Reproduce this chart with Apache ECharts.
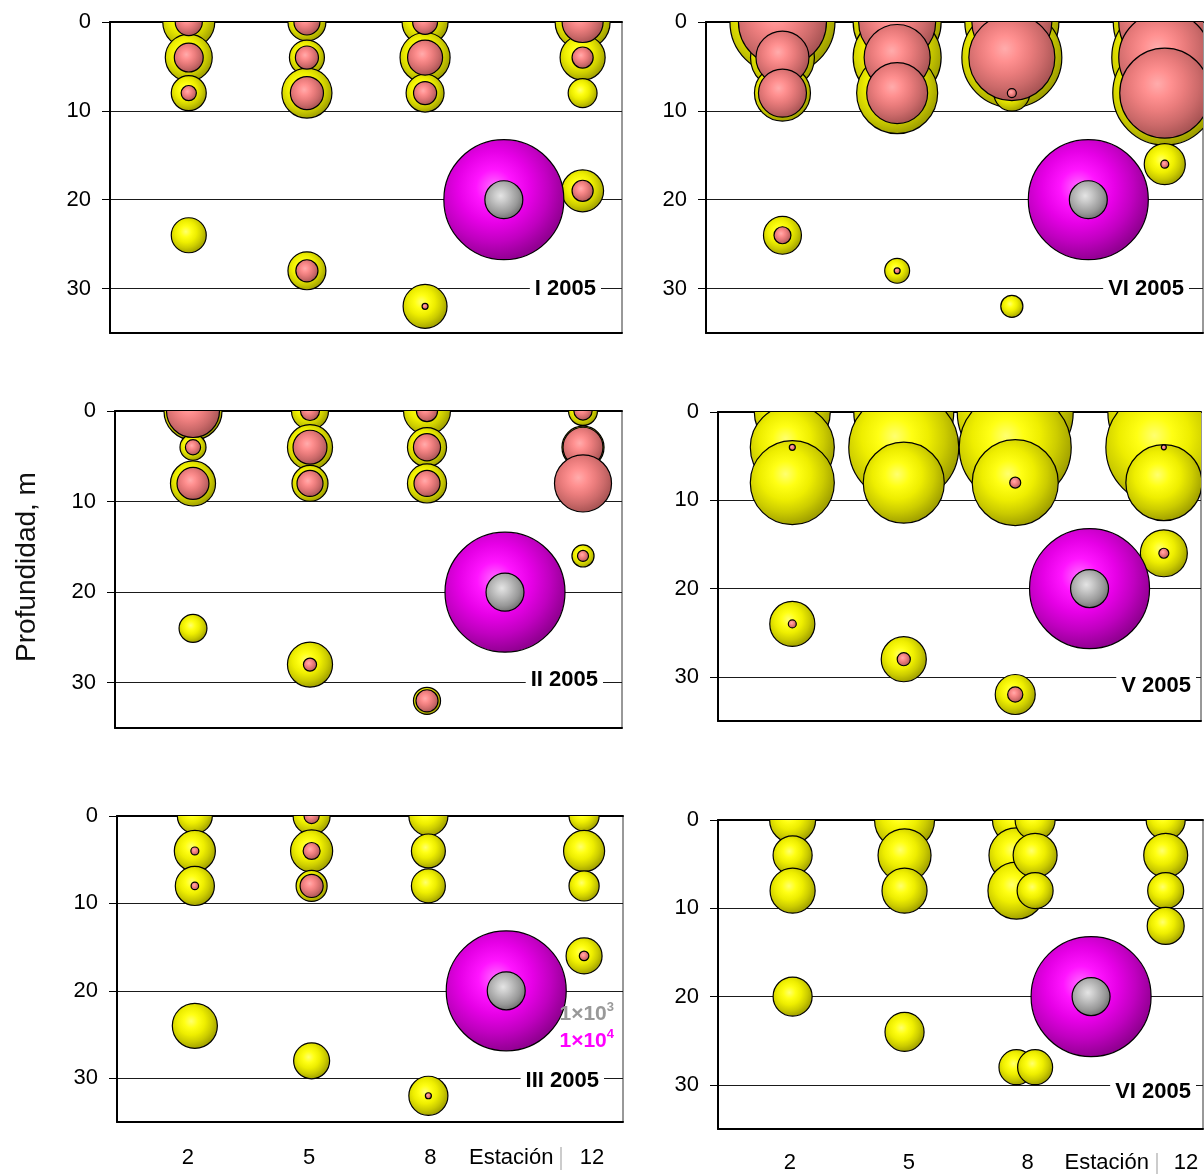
<!DOCTYPE html>
<html>
<head>
<meta charset="utf-8">
<script src="https://cdn.jsdelivr.net/npm/echarts@6/dist/echarts.min.js"></script>
<style>
  html, body { margin: 0; padding: 0; background: #ffffff; }
  #chart { width: 1204px; height: 1174px; }
</style>
</head>
<body>
<div id="chart"></div>
<script>
// Sampling grid
const depthTicks = [0, 10, 20, 30];
const stationTicks = [2, 5, 8, 10, 12];   // 10 carries the axis title
const stationAxisTitle = 'Estación';

// Each row: [station, depth (m), yellow group abundance, pink group abundance]
const samplesI = [
  [2, 0, 1880, 510], [2, 4, 1530, 580], [2, 8, 850, 160], [2, 24, 850, null],
  [5, 0, 1000, 470], [5, 4, 850, 370], [5, 8, 1740, 760], [5, 28, 1000, 340],
  [8, 0, 1470, 430], [8, 4, 1740, 850], [8, 8, 1000, 370], [8, 32, 1340, 25],
  [12, 0, 2100, 1170], [12, 4, 1410, 310], [12, 8, 580, null], [12, 19, 1220, 310]
];
const samplesII = [
  [2, 0, 2340, 1950], [2, 4, 470, 160], [2, 8, 1410, 710], [2, 24, 540, null],
  [5, 0, 950, 250], [5, 4, 1410, 800], [5, 8, 900, 470], [5, 28, 1410, 120],
  [8, 0, 1530, 310], [8, 4, 1060, 510], [8, 8, 1060, 470], [8, 32, 510, 340],
  [12, 0, 580, 230], [12, 4, 1230, 1110], [12, 8, null, 2260], [12, 16, 340, 84]
];
const samplesIII = [
  [2, 0, 850, null], [2, 4, 1170, 44], [2, 8, 1060, 39], [2, 24, 1410, null],
  [5, 0, 950, 160], [5, 4, 1230, 200], [5, 8, 670, 370], [5, 28, 900, null],
  [8, 0, 1060, null], [8, 4, 800, null], [8, 8, 800, null], [8, 32, 1060, 25],
  [12, 0, 630, null], [12, 4, 1170, null], [12, 8, 630, null], [12, 16, 900, 63]
];
const samplesVIa = [
  [2, 0, 7660, 5380], [2, 4, 2840, 1950], [2, 8, 2180, 1600], [2, 24, 1000, 200],
  [5, 0, 5380, 4120], [5, 4, 5380, 3030], [5, 8, 4560, 2580], [5, 28, 430, 25],
  [8, 0, 6140, 4440], [8, 4, 6940, 5140], [8, 8, 900, 56], [8, 32, 340, null],
  [12, 0, 7370, 5880], [12, 4, 7800, 5880], [12, 8, 7510, 5630], [12, 16, 1170, 44]
];
const samplesV = [
  [2, 0, 4010, null], [2, 4, 4900, 25], [2, 8, 4900, null], [2, 24, 1410, 44],
  [5, 0, 6940, null], [5, 4, 8400, null], [5, 8, 4560, null], [5, 28, 1410, 120],
  [8, 0, 9340, null], [8, 4, 8710, null], [8, 8, 5140, 84], [8, 32, 1110, 160],
  [12, 0, 8710, null], [12, 4, 9340, 17], [12, 8, 4010, null], [12, 16, 1530, 69]
];
const samplesVIb = [
  [2, 0, 1470, null], [2, 4, 1060, null], [2, 8, 1410, null], [2, 20, 1060, null],
  [5, 0, 2500, null], [5, 4, 1950, null], [5, 8, 1410, null], [5, 24, 1060, null],
  [8, 0, 1600, null], [8, 4, 2100, null], [8, 8, 2260, null], [8, 28, 850, null],
  [8.5, 0, 1110, null], [8.5, 4, 1340, null], [8.5, 8, 900, null], [8.5, 28, 850, null],
  [12, 0, 1060, null], [12, 4, 1340, null], [12, 8, 900, null], [12, 12, 950, null]
];

// Reference bubbles: 1x10^4 and 1x10^3, drawn at station 10, 20 m
const keyPosition = [10, 20];
const keyValues = [10000, 1000];

const FONT = '"Liberation Sans", Arial, Helvetica, sans-serif';
const BUBBLE_SCALE = 1.2;   // bubble diameter (px) per square root of abundance

function radial(colors) {
  return {
    type: 'radial', x: 0.42, y: 0.4, r: 0.6, global: false,
    colorStops: colors.map((c, i) => ({ offset: i / (colors.length - 1), color: c }))
  };
}
const FILL = {
  yellow: radial(['#ffff70', '#ffff14', '#eeee00', '#cccc00', '#a0a000']),
  pink: radial(['#ffacac', '#ff9090', '#ea7c7c', '#cc6a6a', '#a85454']),
  magenta: radial(['#ff6eff', '#ff14ff', '#e600e6', '#c000c0', '#920092']),
  grey: radial(['#e4e4e4', '#cccccc', '#b2b2b2', '#989898', '#747474'])
};

const panels = [
  { title: 'I 2005', samples: samplesI, box: { left: 110, top: 22, width: 512, height: 311 }, tag: { right: 21, dy: 0 } },
  { title: 'II 2005', samples: samplesII, box: { left: 115, top: 411, width: 507, height: 317 }, tag: { right: 19, dy: -3 } },
  { title: 'III 2005', samples: samplesIII, box: { left: 117, top: 816, width: 506, height: 306 }, tag: { right: 19, dy: 3 },
    labels: { min: 0.243, max: 12.767, margin: 25 }, keyText: true },
  { title: 'VI 2005', samples: samplesVIa, box: { left: 706, top: 22, width: 497, height: 311 }, tag: { right: 14, dy: 0 } },
  { title: 'V 2005', samples: samplesV, box: { left: 718, top: 412, width: 483, height: 309 }, tag: { right: 5, dy: 9 } },
  { title: 'VI 2005', samples: samplesVIb, box: { left: 718, top: 820, width: 485, height: 310 }, tag: { right: 7, dy: 6 },
    labels: { min: 0.182, max: 12.43, margin: 23 } }
];

const grids = [], xAxes = [], yAxes = [], series = [], graphics = [];

// Bubbles are drawn as a custom series so they are cut at the plot frame.
function bubbleSeries(xIdx, yIdx, data, fill) {
  return {
    type: 'custom', xAxisIndex: xIdx, yAxisIndex: yIdx, data: data,
    clip: true, silent: true, animation: false,
    encode: { x: 0, y: 1 },
    renderItem: (params, api) => {
      const c = api.coord([api.value(0), api.value(1)]);
      const r = BUBBLE_SCALE * Math.sqrt(api.value(2)) / 2;
      return {
        type: 'circle',
        shape: { cx: c[0], cy: c[1], r: r },
        style: { fill: fill, stroke: '#000', lineWidth: 1.2 }
      };
    }
  };
}

panels.forEach((p, i) => {
  const b = p.box;
  grids.push({ left: b.left, top: b.top, width: b.width, height: b.height,
    show: true, borderColor: '#333', borderWidth: 1, backgroundColor: 'transparent' });

  // bottom frame axis (stations)
  const xMain = xAxes.length;
  xAxes.push({ gridIndex: i, type: 'value', min: 0, max: 13, position: 'bottom',
    axisLine: { show: true, onZero: false, lineStyle: { color: '#000', width: 2 } },
    axisTick: { show: false }, axisLabel: { show: false }, splitLine: { show: false } });
  // top frame
  xAxes.push({ gridIndex: i, type: 'value', min: 0, max: 13, position: 'top',
    axisLine: { show: true, onZero: false, lineStyle: { color: '#000', width: 2 } },
    axisTick: { show: false }, axisLabel: { show: false }, splitLine: { show: false } });
  // station tick labels, printed on their own scale below the bottom row
  if (p.labels) {
    xAxes.push({ gridIndex: i, type: 'value', min: p.labels.min, max: p.labels.max, position: 'bottom',
      axisLine: { show: false }, axisTick: { show: false }, splitLine: { show: false },
      axisLabel: { show: true, customValues: stationTicks, margin: p.labels.margin,
        fontFamily: FONT, fontSize: 22, color: '#000',
        formatter: v => (v === 10 ? stationAxisTitle : String(v)) } });
  }

  yAxes.push({ gridIndex: i, type: 'value', inverse: true, min: 0, max: 35, interval: 10,
    axisLine: { show: true, onZero: false, lineStyle: { color: '#000', width: 2 } },
    axisTick: { show: true, length: 8, customValues: depthTicks, lineStyle: { color: '#000', width: 1 } },
    axisLabel: { show: true, customValues: depthTicks, margin: 19, fontFamily: FONT, fontSize: 22, color: '#000' },
    splitLine: { show: true, lineStyle: { color: '#1a1a1a', width: 1 } } });

  const yellow = p.samples.filter(r => r[2] != null).map(r => [r[0], r[1], r[2]]);
  const pink = p.samples.filter(r => r[3] != null).map(r => [r[0], r[1], r[3]]);
  series.push(bubbleSeries(xMain, i, yellow, FILL.yellow));
  series.push(bubbleSeries(xMain, i, pink, FILL.pink));
  series.push(bubbleSeries(xMain, i, [[keyPosition[0], keyPosition[1], keyValues[0]]], FILL.magenta));
  series.push(bubbleSeries(xMain, i, [[keyPosition[0], keyPosition[1], keyValues[1]]], FILL.grey));

  // month tag sitting on the 30 m line
  graphics.push({ type: 'text', z: 100,
    x: b.left + b.width - p.tag.right, y: b.top + b.height * 30 / 35 + p.tag.dy,
    style: { text: p.title, font: 'bold 22px ' + FONT, fill: '#000', align: 'right', verticalAlign: 'middle',
      backgroundColor: '#fff', padding: [1, 5, 1, 5] } });

  if (p.keyText) {
    const rich = (color) => ({
      b: { fontSize: 21, fontWeight: 'bold', fontFamily: FONT, fill: color, lineHeight: 24, verticalAlign: 'bottom' },
      s: { fontSize: 13, fontWeight: 'bold', fontFamily: FONT, fill: color, lineHeight: 14, verticalAlign: 'top' }
    });
    graphics.push({ type: 'text', z: 100, x: 614, y: 1013,
      style: { text: '{b|1×10}{s|3}', rich: rich('#999999'), align: 'right', verticalAlign: 'middle' } });
    graphics.push({ type: 'text', z: 100, x: 614, y: 1040,
      style: { text: '{b|1×10}{s|4}', rich: rich('#ff00ff'), align: 'right', verticalAlign: 'middle' } });
  }
});

// depth axis title
graphics.push({ type: 'text', z: 100, x: 27, y: 567, rotation: Math.PI / 2,
  style: { text: 'Profundidad, m', font: '28px ' + FONT, fill: '#111', align: 'center', verticalAlign: 'middle' } });

// thin separators after the station axis title
graphics.push({ type: 'line', z: 100, shape: { x1: 561, y1: 1147, x2: 561, y2: 1170 }, style: { stroke: '#999', lineWidth: 1 } });
graphics.push({ type: 'line', z: 100, shape: { x1: 1157, y1: 1153, x2: 1157, y2: 1175 }, style: { stroke: '#999', lineWidth: 1 } });

const chart = echarts.init(document.getElementById('chart'), null, { renderer: 'canvas' });
chart.setOption({
  backgroundColor: '#ffffff',
  animation: false,
  grid: grids,
  xAxis: xAxes,
  yAxis: yAxes,
  series: series,
  graphic: { elements: graphics }
});
</script>
</body>
</html>
